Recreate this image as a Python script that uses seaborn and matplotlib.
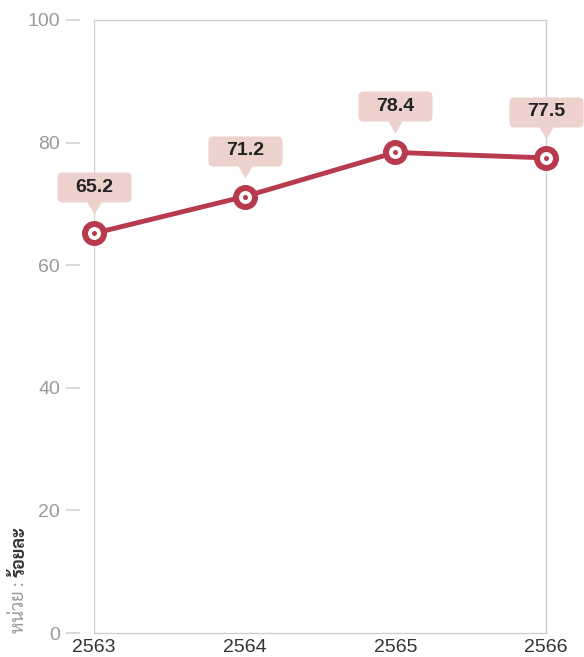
import numpy as np
import pandas as pd
import matplotlib
matplotlib.use("Agg")
import matplotlib.pyplot as plt
from matplotlib.path import Path
from matplotlib.markers import MarkerStyle
from matplotlib.lines import Line2D
import seaborn as sns

# Data
years = ["2563", "2564", "2565", "2566"]
values = [65.2, 71.2, 78.4, 77.5]
y_ticks = [0, 20, 40, 60, 80, 100]
unit_prefix = "หน่วย : "
unit_name = "ร้อยละ"

LINE_RED = "#b83b4d"
BOX_FILL = "#edd1cc"
GRID_GRAY = "#d0d0d0"
THAI_FONTS = ["Sarabun", "Liberation Sans", "DejaVu Sans"]

sns.set_theme(style="white")
plt.rcParams["font.family"] = ["Liberation Sans", "DejaVu Sans"]

DPI = 100
fig = plt.figure(figsize=(5.84, 6.57), dpi=DPI)
ax = fig.add_axes([94 / 584, 24 / 657, 452 / 584, 613 / 657])

df = pd.DataFrame({"year": years, "value": values})
sns.lineplot(data=df, x="year", y="value", ax=ax, color=LINE_RED,
             linewidth=3.5, sort=False, zorder=3)

px = 72 / DPI  # points per pixel

# ring markers with a small centre dot
ax.plot(df["year"], df["value"], linestyle="none", marker="o",
        markersize=19 * px, markerfacecolor="white",
        markeredgecolor=LINE_RED, markeredgewidth=6 * px, zorder=4,
        clip_on=False)
ax.plot(df["year"], df["value"], linestyle="none", marker="o",
        markersize=5 * px, markerfacecolor=LINE_RED,
        markeredgecolor=LINE_RED, markeredgewidth=0, zorder=5,
        clip_on=False)

# callout shape: rounded box with a pointer, anchored at the data point
def callout_path(w=74, b=31, t=61, r=5, pw=7, tip=19):
    hw = w / 2
    verts = [
        (-hw + r, b), (-pw, b), (0, tip), (pw, b), (hw - r, b),
        (hw, b), (hw, b + r),
        (hw, t - r),
        (hw, t), (hw - r, t),
        (-hw + r, t),
        (-hw, t), (-hw, t - r),
        (-hw, b + r),
        (-hw, b), (-hw + r, b),
        (0, 0),
    ]
    codes = [
        Path.MOVETO, Path.LINETO, Path.LINETO, Path.LINETO, Path.LINETO,
        Path.CURVE3, Path.CURVE3,
        Path.LINETO,
        Path.CURVE3, Path.CURVE3,
        Path.LINETO,
        Path.CURVE3, Path.CURVE3,
        Path.LINETO,
        Path.CURVE3, Path.CURVE3,
        Path.CLOSEPOLY,
    ]
    return Path(verts, codes), max(abs(v) for xy in verts for v in xy)

path, extent = callout_path()
ax.plot(df["year"], df["value"], linestyle="none",
        marker=MarkerStyle(path), markersize=2 * extent * px,
        markerfacecolor=BOX_FILL, markeredgewidth=0, zorder=6,
        clip_on=False)

for yr, v in zip(years, values):
    ax.annotate(f"{v:.1f}", xy=(yr, v), xytext=(0, 46),
                textcoords="offset pixels", ha="center", va="center",
                fontsize=14, fontweight="bold", color="#222222",
                zorder=7, annotation_clip=False)

# axes styling
ax.set_xlim(0, len(years) - 1)
ax.set_ylim(0, 100)
ax.set_yticks(y_ticks)
ax.set_xlabel("")
ax.set_ylabel("")
ax.grid(False)

for side in ["top", "right", "bottom"]:
    ax.spines[side].set_visible(True)
    ax.spines[side].set_color(GRID_GRAY)
    ax.spines[side].set_linewidth(1)
ax.spines["left"].set_position(("outward", 10))
ax.spines["left"].set_color("none")
ax.add_line(Line2D([0, 0], [0, 1], transform=ax.transAxes,
                   color=GRID_GRAY, linewidth=1, zorder=1))

ax.tick_params(axis="y", which="major", left=True, length=14 * px,
               width=1.5 * px, color=GRID_GRAY, pad=6 * px,
               labelsize=14, labelcolor="#9a9a9a")
ax.tick_params(axis="x", which="major", bottom=True, length=0,
               pad=6 * px, labelsize=14, labelcolor="#333333")

# unit label, rotated along the left edge
t1 = fig.text(20 / 584, 24 / 657, unit_prefix, rotation=90,
              rotation_mode="anchor", ha="left", va="center",
              fontsize=13, color="#9a9a9a", family=THAI_FONTS)
ax.annotate(unit_name, xy=(0.5, 1.0), xycoords=t1, rotation=90,
            rotation_mode="anchor", ha="left", va="center",
            fontsize=13, fontweight="bold", color="#333333",
            family=THAI_FONTS, annotation_clip=False)

fig.savefig("out.png", dpi=DPI)
